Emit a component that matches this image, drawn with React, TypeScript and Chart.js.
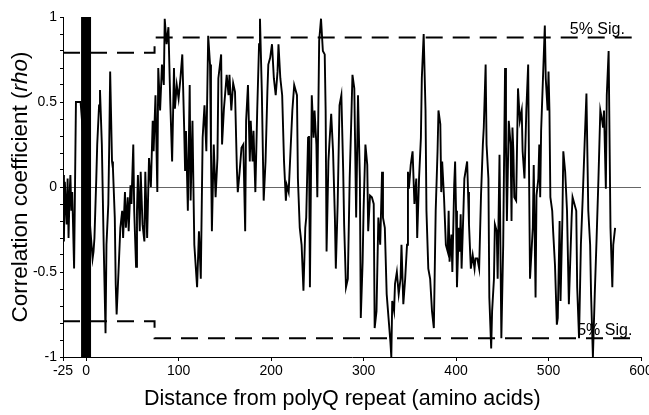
import React, { useEffect, useRef } from "react";
import { Chart, registerables } from "chart.js";

Chart.register(...registerables);

// ---- data ----
const residue = [
  -25, -24, -23, -21, -20, -19, -18, -17, -16, -15, -13, -11, -6, 7, 8, 9, 11, 12, 14, 15, 17, 19, 21, 22, 24, 25, 26, 28, 29, 31,
  32, 33, 35, 37, 39, 40, 42, 43, 45, 46, 48, 49, 51, 52, 54, 55, 56, 58, 59, 61, 63, 64, 66, 68, 70, 72, 73, 75, 77, 78,
  80, 82, 84, 85, 87, 89, 91, 93, 95, 96, 98, 100, 102, 104, 106, 107, 108, 110, 112, 113, 115, 116, 117, 120, 122, 124, 126, 128, 130, 132,
  134, 135, 136, 138, 140, 142, 143, 146, 147, 149, 152, 154, 155, 157, 159, 161, 163, 164, 166, 168, 170, 172, 173, 175, 177, 178, 180, 181, 183, 185,
  187, 188, 190, 192, 194, 196, 197, 199, 201, 203, 205, 207, 208, 210, 212, 214, 216, 217, 219, 221, 223, 225, 228, 229, 231, 233, 235, 237, 238, 240,
  241, 242, 244, 246, 247, 249, 250, 252, 254, 256, 258, 259, 260, 262, 263, 265, 267, 269, 270, 272, 274, 276, 278, 279, 281, 283, 285, 287, 288, 290,
  292, 294, 296, 297, 299, 300, 302, 304, 305, 307, 309, 311, 312, 314, 316, 318, 320, 321, 323, 325, 327, 329, 330, 331, 333, 334, 336, 338, 340, 341,
  343, 345, 347, 348, 349, 351, 353, 355, 357, 358, 360, 362, 363, 365, 367, 368, 370, 372, 374, 376, 378, 380, 381, 383, 384, 385, 387, 389, 391, 392,
  393, 395, 396, 398, 399, 400, 401, 403, 404, 405, 406, 408, 409, 412, 413, 414, 416, 418, 420, 421, 423, 425, 427, 429, 430, 432, 433, 435, 436, 438,
  439, 441, 442, 444, 445, 447, 449, 451, 453, 454, 455, 457, 459, 460, 461, 462, 463, 465, 467, 469, 471, 472, 474, 476, 478, 479, 480, 482, 483, 484,
  486, 487, 489, 490, 491, 492, 494, 496, 497, 499, 500, 501, 502, 504, 505, 507, 509, 510, 512, 513, 515, 516, 518, 520, 522, 525, 526, 528, 530, 531,
  533, 535, 537, 539, 541, 543, 545, 546, 548, 550, 552, 554, 555, 556, 558, 559, 560, 562, 563, 565, 567, 569, 570, 572,
];

const rho = [
  0.07, -0.32, 0.03, -0.22, 0.05, -0.3, -0.06, 0.07, -0.14, -0.03, -0.48, 0.5, 0.5, -0.42, -0.38, -0.3, 0.05, 0.25, 0.48, 0.57, 0.25, -0.34, -0.86, -0.34, -0.1, 0.25, 0.68, 0.15, 0.11, -0.18,
  -0.57, -0.75, -0.5, -0.24, -0.14, -0.3, -0.03, -0.24, -0.06, -0.26, 0.01, -0.1, 0.25, -0.14, -0.47, -0.14, 0.07, -0.26, 0.09, -0.22, -0.32, 0.09, -0.3, 0.17, 0.0, 0.39, 0.21, 0.54, -0.03, 0.7,
  0.45, 0.72, 0.6, 0.99, 0.84, 0.94, 0.5, 0.15, 0.7, 0.46, 0.6, 0.52, 0.64, 0.78, 0.35, 0.1, 0.33, -0.14, 0.6, -0.08, 0.39, 0.01, -0.34, -0.59, -0.26, -0.54, 0.29, 0.48, 0.21, 0.89,
  0.72, 0.21, -0.26, 0.25, -0.06, 0.17, 0.64, 0.78, 0.25, 0.46, 0.66, 0.54, 0.66, 0.45, 0.61, 0.56, 0.11, -0.03, 0.09, 0.23, 0.25, -0.26, 0.39, 0.6, 0.15, 0.39, 0.15, 0.33, -0.03, 0.45,
  0.84, 0.99, 0.56, -0.08, 0.15, 0.56, 0.72, 0.76, 0.84, 0.64, 0.54, 0.68, 0.84, 0.64, 0.54, 0.15, -0.08, 0.01, -0.03, 0.21, 0.45, 0.6, 0.54, 0.05, -0.24, -0.34, -0.61, -0.24, -0.18, 0.29,
  0.3, -0.59, 0.54, 0.29, 0.45, 0.25, -0.06, 0.86, 0.99, 0.8, 0.78, 0.45, -0.38, 0.15, 0.25, 0.43, 0.21, -0.18, -0.48, -0.1, 0.48, 0.54, 0.09, -0.22, -0.59, -0.54, 0.05, 0.45, 0.66, 0.58,
  -0.18, 0.54, 0.05, -0.77, -0.44, -0.14, 0.25, 0.13, -0.26, -0.05, -0.06, -0.1, -0.83, -0.73, -0.18, -0.34, 0.09, -0.18, -0.24, -0.63, -0.77, -0.91, -1.0, -0.67, -0.73, -0.57, -0.5, -0.63, -0.54, -0.34,
  -0.69, -0.54, -0.34, 0.09, -0.01, 0.13, 0.21, -0.1, 0.05, -0.3, 0.05, 0.29, 0.64, 0.9, 0.45, -0.14, -0.48, -0.54, -0.73, -0.83, -0.14, 0.21, 0.45, 0.37, -0.03, 0.15, -0.06, -0.34, -0.38, -0.14,
  -0.44, -0.28, -0.5, 0.01, 0.15, -0.14, -0.59, -0.24, -0.38, -0.16, -0.48, -0.14, 0.05, 0.15, -0.03, -0.22, -0.48, -0.4, -0.48, -0.42, -0.42, -0.48, -0.05, 0.25, 0.35, 0.72, 0.25, 0.05, -0.65, -0.95,
  -0.73, -0.54, -0.22, -0.26, -0.54, 0.19, -0.89, -0.34, 0.7, 0.25, -0.2, 0.39, 0.25, -0.2, 0.35, 0.21, -0.06, -0.08, 0.58, 0.39, 0.45, 0.21, 0.05, 0.45, 0.72, 0.05, -0.54, -0.34, -0.24, 0.13,
  -0.65, -0.05, 0.05, 0.25, -0.06, 0.33, 0.64, 0.95, 0.64, 0.45, 0.68, 0.45, -0.06, -0.14, -0.26, -0.46, -0.81, -0.77, -0.2, -0.67, -0.18, 0.21, 0.09, -0.14, -0.69, -0.18, -0.06, -0.1, -0.14, -0.59,
  -0.89, -0.34, -0.06, 0.25, 0.55, -0.14, -0.34, -0.63, -1.0, -0.63, -0.3, 0.05, 0.25, 0.45, 0.39, 0.35, 0.45, -0.01, 0.54, 0.8, -0.24, -0.59, -0.34, -0.24,
];

// polyQ repeat block (residue range)
const polyQStart = -5.5;
const polyQEnd = 5.5;

// 5% significance thresholds (stepped)
const sigResidue = [-25, 74, 74, 592];
const sigUpper = [0.79, 0.79, 0.88, 0.88];
const sigLower = [-0.79, -0.79, -0.89, -0.89];
const sigLabel = "5% Sig.";
const sigLabelResidue = [523, 531];
const sigLabelRho = [0.88, -0.89];

const xTickValues = [-25, 0, 100, 200, 300, 400, 500, 600];
const yTickLabels = ["-1", "-0.5", "0", "0.5", "1"];

const xTitle = "Distance from polyQ repeat (amino acids)";
const yTitleParts = [
  { text: "Correlation coefficient (", italic: false },
  { text: "rho", italic: true },
  { text: ")", italic: false },
];

const TICK_FONT = "'Liberation Sans Narrow', 'Liberation Sans', Arial, sans-serif";
const TITLE_FONT = "'Liberation Sans', Arial, sans-serif";

const annotatePlugin = {
  id: "annotate",
  afterDraw(chart: any) {
    const { ctx, scales } = chart;
    const x = scales.x;
    const y = scales.y;
    ctx.save();
    ctx.fillStyle = "#000";

    // significance labels
    ctx.font = `16px ${TITLE_FONT}`;
    ctx.textAlign = "left";
    ctx.textBaseline = "alphabetic";
    sigLabelResidue.forEach((r, i) => {
      ctx.fillText(sigLabel, x.getPixelForValue(r), y.getPixelForValue(sigLabelRho[i]) - 3);
    });

    // x title
    ctx.font = `21.5px ${TITLE_FONT}`;
    ctx.textAlign = "center";
    ctx.fillText(xTitle, x.getPixelForValue(277), 405);

    // y title (rotated, mixed italic)
    const size = 22.5;
    const fonts = yTitleParts.map((p) => `${p.italic ? "italic " : ""}${size}px ${TITLE_FONT}`);
    const widths = yTitleParts.map((p, i) => {
      ctx.font = fonts[i];
      return ctx.measureText(p.text).width;
    });
    const total = widths.reduce((a, b) => a + b, 0);
    ctx.translate(21, (y.top + y.bottom) / 2);
    ctx.rotate(-Math.PI / 2);
    ctx.textAlign = "left";
    ctx.textBaseline = "middle";
    let cx = -total / 2;
    yTitleParts.forEach((p, i) => {
      ctx.font = fonts[i];
      ctx.fillText(p.text, cx, 0);
      cx += widths[i];
    });
    ctx.restore();
  },
};

export default function App() {
  const ref = useRef<HTMLCanvasElement | null>(null);

  useEffect(() => {
    if (!ref.current) return;
    const mainData = residue.map((r, i) => ({ x: r, y: rho[i] }));
    const upperData = sigResidue.map((r, i) => ({ x: r, y: sigUpper[i] }));
    const lowerData = sigResidue.map((r, i) => ({ x: r, y: sigLower[i] }));
    const yMax = Number(yTickLabels[yTickLabels.length - 1]);
    const yMin = Number(yTickLabels[0]);
    const barData = [
      { x: polyQStart, y: yMax },
      { x: polyQEnd, y: yMax },
    ];

    const chart = new Chart(ref.current, {
      type: "line",
      data: {
        datasets: [
          {
            label: "polyQ",
            data: barData,
            borderWidth: 0,
            borderColor: "#000",
            backgroundColor: "#000",
            fill: "start",
            pointRadius: 0,
          },
          {
            label: "rho",
            data: mainData,
            borderColor: "#000",
            borderWidth: 1.9,
            pointRadius: 0,
            tension: 0,
            fill: false,
          },
          {
            label: "upper",
            data: upperData,
            borderColor: "#000",
            borderWidth: 2,
            borderDash: [17, 10],
            pointRadius: 0,
            fill: false,
          },
          {
            label: "lower",
            data: lowerData,
            borderColor: "#000",
            borderWidth: 2,
            borderDash: [17, 10],
            pointRadius: 0,
            fill: false,
          },
        ],
      },
      options: {
        animation: false,
        responsive: true,
        maintainAspectRatio: false,
        devicePixelRatio: 1,
        layout: { padding: { top: 17, right: 8, left: 0, bottom: 0 } },
        plugins: {
          legend: { display: false },
          tooltip: { enabled: false },
          title: { display: false },
        },
        scales: {
          x: {
            type: "linear",
            min: -25,
            max: 600,
            afterBuildTicks: (s: any) => {
              s.ticks = xTickValues.map((v) => ({ value: v }));
            },
            afterFit: (s: any) => {
              s.height = 58;
              s.paddingRight = 0;
              s.paddingLeft = 0;
            },
            ticks: {
              autoSkip: false,
              maxRotation: 0,
              color: "#000",
              padding: 2,
              font: { family: TICK_FONT, size: 14 },
              callback: (v: any) => String(v),
            },
            grid: {
              drawOnChartArea: false,
              drawTicks: true,
              tickLength: 4,
              tickColor: "#000",
            },
            border: { display: true, color: "#000", width: 1 },
          },
          y: {
            type: "linear",
            min: yMin,
            max: yMax,
            afterFit: (s: any) => {
              s.width = 63;
            },
            ticks: {
              stepSize: 0.1,
              autoSkip: false,
              color: "#000",
              padding: 3,
              font: { family: TICK_FONT, size: 14 },
              callback: (v: any) => {
                const n = Number(v);
                if (Math.abs(n * 2 - Math.round(n * 2)) > 1e-6) return "";
                const r = Math.round(n * 2) / 2;
                const lbl = String(r);
                return yTickLabels.includes(lbl) ? lbl : "";
              },
            },
            grid: {
              drawOnChartArea: true,
              drawTicks: true,
              tickLength: 3,
              tickColor: "#000",
              color: (c: any) =>
                c.tick && Math.abs(c.tick.value) < 1e-9 ? "#666" : "rgba(0,0,0,0)",
              lineWidth: 1,
            },
            border: { display: true, color: "#000", width: 1 },
          },
        },
      },
      plugins: [annotatePlugin],
    });
    return () => chart.destroy();
  }, []);

  return (
    <div
      style={{
        position: "fixed",
        left: 0,
        top: 0,
        width: 649,
        height: 415,
        background: "#fff",
      }}
    >
      <canvas ref={ref} />
    </div>
  );
}
